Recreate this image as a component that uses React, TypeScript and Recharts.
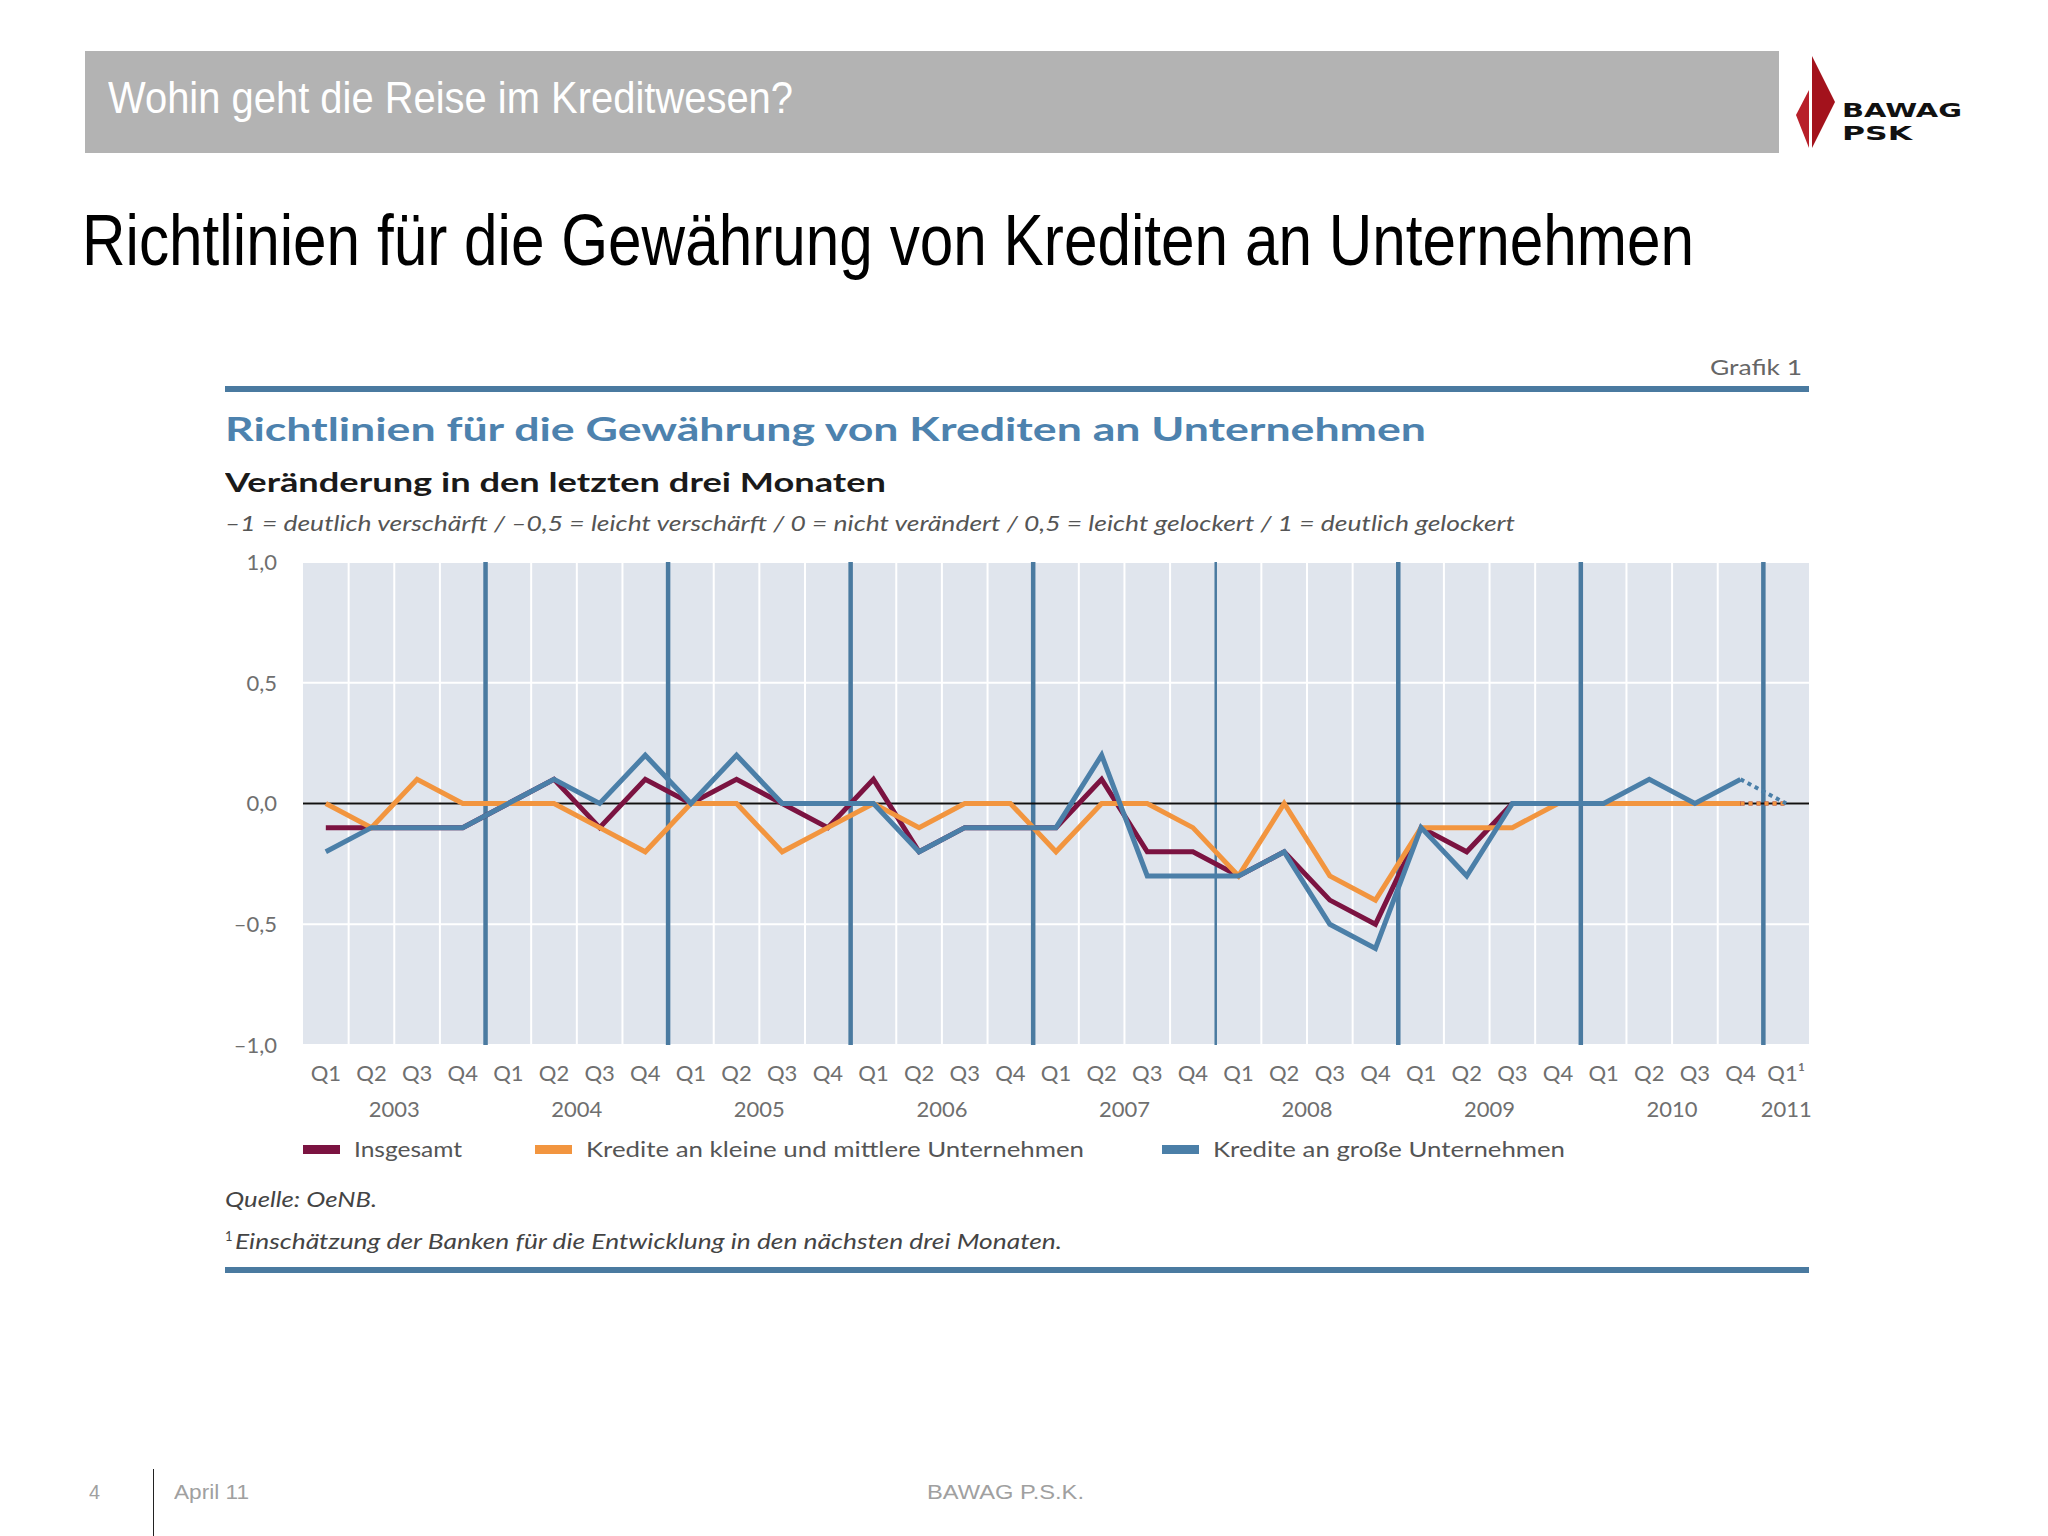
import React from 'react';
import { LineChart, Line, XAxis, YAxis, CartesianGrid, ReferenceLine } from 'recharts';

// quarterly survey values, Q1 2003 .. Q1 2011 (last point = bank expectation)
const quarterLabels = [
  'Q1', 'Q2', 'Q3', 'Q4', 'Q1', 'Q2', 'Q3', 'Q4', 'Q1', 'Q2', 'Q3', 'Q4',
  'Q1', 'Q2', 'Q3', 'Q4', 'Q1', 'Q2', 'Q3', 'Q4', 'Q1', 'Q2', 'Q3', 'Q4',
  'Q1', 'Q2', 'Q3', 'Q4', 'Q1', 'Q2', 'Q3', 'Q4', 'Q1\u00B9',
];
const years = ['2003', '2004', '2005', '2006', '2007', '2008', '2009', '2010', '2011'];
const yearLabelPos = [1.5, 5.5, 9.5, 13.5, 17.5, 21.5, 25.5, 29.5, 32];
const yearBreaks = [3.5, 7.5, 11.5, 15.5, 19.5, 23.5, 27.5, 31.5];

const insgesamt = [
  -0.1, -0.1, -0.1, -0.1, 0, 0.1, -0.1, 0.1, 0, 0.1, 0, -0.1,
  0.1, -0.2, -0.1, -0.1, -0.1, 0.1, -0.2, -0.2, -0.3, -0.2, -0.4, -0.5,
  -0.1, -0.2, 0, 0, 0, 0, 0, 0, 0,
];
const kmu = [
  0, -0.1, 0.1, 0, 0, 0, -0.1, -0.2, 0, 0, -0.2, -0.1,
  0, -0.1, 0, 0, -0.2, 0, 0, -0.1, -0.3, 0, -0.3, -0.4,
  -0.1, -0.1, -0.1, 0, 0, 0, 0, 0, 0,
];
const gross = [
  -0.2, -0.1, -0.1, -0.1, 0, 0.1, 0, 0.2, 0, 0.2, 0, 0,
  0, -0.2, -0.1, -0.1, -0.1, 0.2, -0.3, -0.3, -0.3, -0.2, -0.5, -0.6,
  -0.1, -0.3, 0, 0, 0, 0.1, 0, 0.1, 0,
];
const FORECAST = 32;

const yTicks = [-1, -0.5, 0, 0.5, 1];

const MAROON = '#7b1341';
const ORANGE = '#f2953f';
const BLUE = '#4b7fa8';
const RULE = '#4a7aa0';

const rows = quarterLabels.map((q, i) => ({
  i,
  insgesamt: i < FORECAST ? insgesamt[i] : null,
  kmu: i < FORECAST ? kmu[i] : null,
  gross: i < FORECAST ? gross[i] : null,
  insgesamtF: i >= FORECAST - 1 ? insgesamt[i] : null,
  kmuF: i >= FORECAST - 1 ? kmu[i] : null,
  grossF: i >= FORECAST - 1 ? gross[i] : null,
}));

const bandEdges = quarterLabels.slice(1).map((_, i) => i + 0.5).filter((b) => !yearBreaks.includes(b));

const fmtY = (v: number) => (v < 0 ? '\u2013' : '') + Math.abs(v).toFixed(1).replace('.', ',');

const arial = '"Liberation Sans", Arial, sans-serif';
const chartFont = 'Lato, "Open Sans", sans-serif';

const abs = (left: number, top: number, extra: React.CSSProperties = {}): React.CSSProperties => ({
  position: 'absolute', left, top, margin: 0, whiteSpace: 'nowrap', ...extra,
});

// text squeezed/stretched to the width it has in the slide
type FitProps = { x: number; base: number; w: number; size: number; color: string; font: string; weight?: number; italic?: boolean; children: React.ReactNode };
const Fit = ({ x, base, w, size, color, font, weight = 400, italic = false, children }: FitProps) => (
  <svg style={abs(x, base - size * 1.3)} width={Math.round(w * 1.6 + 20)} height={size * 1.8}>
    <text x={0} y={size * 1.3} textLength={w} lengthAdjust="spacingAndGlyphs" fontSize={size}
      fontFamily={font} fontWeight={weight} fontStyle={italic ? 'italic' : 'normal'} fill={color}>
      {children}
    </text>
  </svg>
);

const legendItems = [
  { label: 'Insgesamt', color: MAROON, left: 303, w: 108 },
  { label: 'Kredite an kleine und mittlere Unternehmen', color: ORANGE, left: 535, w: 498 },
  { label: 'Kredite an große Unternehmen', color: BLUE, left: 1162, w: 352 },
];

export default function App() {
  const tickStyle = { fill: '#6f6f6f', fontSize: 22, fontFamily: chartFont };
  return (
    <div style={{ position: 'absolute', left: 0, top: 0, width: 2048, height: 1536, background: '#fff', overflow: 'hidden' }}>
      {/* header bar */}
      <div style={abs(85, 51, { width: 1694, height: 102, background: '#b3b3b3' })} />
      <Fit x={108} base={113} w={685} size={44} color="#fff" font={arial}>Wohin geht die Reise im Kreditwesen?</Fit>
      <svg style={abs(1790, 50)} width={200} height={105}>
        <polygon points="22,6 45,52 22,98" fill="#a3121c" />
        <polygon points="19,40 19,98 6,65" fill="#b8202a" />
        <text x={52} y={67} fontFamily="DejaVu Sans, sans-serif" fontWeight="bold" fontSize={20}
          textLength={120} lengthAdjust="spacingAndGlyphs" fill="#111">BAWAG</text>
        <text x={52} y={90} fontFamily="DejaVu Sans, sans-serif" fontWeight="bold" fontSize={20}
          textLength={70} lengthAdjust="spacingAndGlyphs" fill="#111">PSK</text>
      </svg>

      <Fit x={82} base={265} w={1612} size={72} color="#000" font={arial}>
        Richtlinien für die Gewährung von Krediten an Unternehmen
      </Fit>

      {/* chart frame */}
      <Fit x={1710} base={375} w={92} size={21} color="#666" font={chartFont}>Grafik 1</Fit>
      <div style={abs(225, 386, { width: 1584, height: 6, background: RULE })} />
      <Fit x={225} base={441} w={1201} size={33} color="#4d82ae" font={chartFont} weight={700}>
        Richtlinien für die Gewährung von Krediten an Unternehmen
      </Fit>
      <Fit x={225} base={492} w={661} size={26} color="#1a1a1a" font={chartFont} weight={700}>
        Veränderung in den letzten drei Monaten
      </Fit>
      <Fit x={225} base={531} w={1290} size={21} color="#555" font={chartFont} italic>
        –1 = deutlich verschärft / –0,5 = leicht verschärft / 0 = nicht verändert / 0,5 = leicht gelockert / 1 = deutlich gelockert
      </Fit>

      <div style={abs(225, 540)}>
        <LineChart width={1594} height={581} data={rows} margin={{ top: 22, right: 10, left: 0, bottom: 0 }}>
          <CartesianGrid vertical={false} fill="#e0e5ed" stroke="#ffffff" strokeWidth={2} />
          <XAxis dataKey="i" type="number" domain={[-0.5, 32.5]} ticks={quarterLabels.map((_, i) => i)}
            interval={0} tickFormatter={(v: number) => quarterLabels[v]} axisLine={false} tickLine={false}
            tickMargin={14} height={40} tick={tickStyle} />
          <XAxis xAxisId="year" dataKey="i" type="number" domain={[-0.5, 32.5]} ticks={yearLabelPos} interval={0}
            tickFormatter={(v: number) => years[yearLabelPos.indexOf(v)]} axisLine={false} tickLine={false}
            tickMargin={10} height={36} tick={tickStyle} />
          <YAxis type="number" domain={[-1, 1]} ticks={yTicks} tickFormatter={fmtY} width={78}
            axisLine={false} tickLine={false} tickMargin={20} tick={tickStyle} />
          {bandEdges.map((b) => (
            <ReferenceLine key={'e' + b} x={b} stroke="#ffffff" strokeWidth={2} />
          ))}
          {yearBreaks.map((b) => (
            <ReferenceLine key={'y' + b} x={b} stroke={RULE} strokeWidth={b === 19.5 ? 2.5 : 4.5} />
          ))}
          <ReferenceLine y={0} stroke="#111" strokeWidth={2} />
          <Line dataKey="insgesamt" stroke={MAROON} strokeWidth={5} dot={false} isAnimationActive={false} />
          <Line dataKey="kmu" stroke={ORANGE} strokeWidth={5} dot={false} isAnimationActive={false} />
          <Line dataKey="gross" stroke={BLUE} strokeWidth={5} dot={false} isAnimationActive={false} />
          <Line dataKey="insgesamtF" stroke={MAROON} strokeWidth={4} strokeDasharray="4 4" dot={false} isAnimationActive={false} />
          <Line dataKey="kmuF" stroke={ORANGE} strokeWidth={4} strokeDasharray="4 4" dot={false} isAnimationActive={false} />
          <Line dataKey="grossF" stroke={BLUE} strokeWidth={4} strokeDasharray="4 4" dot={false} isAnimationActive={false} />
        </LineChart>
      </div>

      {/* legend */}
      {legendItems.map((it) => (
        <React.Fragment key={it.label}>
          <div style={abs(it.left, 1145, { width: 37, height: 9, background: it.color })} />
          <Fit x={it.left + 51} base={1157} w={it.w} size={21} color="#555" font={chartFont}>{it.label}</Fit>
        </React.Fragment>
      ))}
      <Fit x={225} base={1207} w={152} size={21} color="#444" font={chartFont} italic>Quelle: OeNB.</Fit>
      <div style={abs(225, 1228, { fontSize: 13, color: '#444', fontFamily: chartFont })}>1</div>
      <Fit x={235} base={1249} w={827} size={21} color="#444" font={chartFont} italic>
        Einschätzung der Banken für die Entwicklung in den nächsten drei Monaten.
      </Fit>
      <div style={abs(225, 1267, { width: 1584, height: 6, background: RULE })} />

      {/* footer */}
      <Fit x={89} base={1499} w={11} size={21} color="#a0a0a0" font={arial}>4</Fit>
      <div style={abs(153, 1469, { width: 1, height: 67, background: '#222' })} />
      <Fit x={174} base={1499} w={75} size={21} color="#a0a0a0" font={arial}>April 11</Fit>
      <Fit x={927} base={1499} w={157} size={21} color="#a0a0a0" font={arial}>BAWAG P.S.K.</Fit>
    </div>
  );
}
